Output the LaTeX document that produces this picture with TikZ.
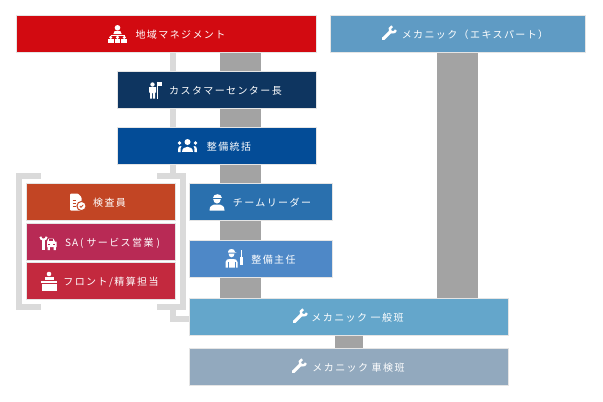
\documentclass[tikz,border=0pt]{standalone}
\usepackage{fontspec}
\setmainfont{Noto Sans CJK JP}[LetterSpace=14]
\usepackage{tikz}
\usetikzlibrary{backgrounds, calc, fit}
\definecolor{manageRed}{HTML}{D20A11}
\definecolor{expertBlue}{HTML}{5F9BC4}
\definecolor{centerNavy}{HTML}{0E3560}
\definecolor{unifyBlue}{HTML}{034C97}
\definecolor{leaderBlue}{HTML}{2A70AE}
\definecolor{chiefBlue}{HTML}{4E88C7}
\definecolor{generalBlue}{HTML}{64A6CB}
\definecolor{inspectGray}{HTML}{92A9BE}
\definecolor{checkRust}{HTML}{C24524}
\definecolor{salesPink}{HTML}{B82A55}
\definecolor{frontRed}{HTML}{C3293E}
\definecolor{trunkGray}{HTML}{A3A3A3}
\definecolor{linkGray}{HTML}{DADADA}
\newcommand{\pad}[1]{\hspace*{#1pt}}
\tikzset{
	role/.style={fill=#1, text=white, inner sep=0pt, outer sep=0pt, minimum height=36pt,
		text height=9.6pt, text depth=1pt,
		font=\fontsize{10}{12}\selectfont, preaction={draw=black!10, line width=1.2pt}},
	trunk/.style={draw=trunkGray, line width=41pt},
	link/.style={draw=linkGray, line width=6pt, line join=miter},
	pics/manageicon/.style={code={
		\fill[white](0,-6.2)circle(2.8);
		\fill[white](-4.2,0)--(-2.8,-3)--(2.8,-3)--(4.2,0)--cycle;
		\draw[white, line width=0.6pt](-6.5,2)--(-6.5,0.8)--(6.5,0.8)--(6.5,2);
		\foreach \px in {-6.8,0,6.8}{
			\fill[white](\px,3.4)circle(1.7);
			\fill[white](\px-2.9,5.3)rectangle(\px+2.9,8.8);
		}
	}},
	pics/flagicon/.style={code={
		\fill[white](-2.5,-5.5)circle(2.2);
		\fill[white](-6,-3)--(1,-3)--(1,2.5)--(0,2.5)--(0,8.5)--(-2,8.5)--(-2,3)--(-3,3)--(-3,8.5)--(-5,8.5)--(-5,2.5)--(-6,2.5)--cycle;
		\draw[white, line width=1pt](2.5,-8.5)--(2.5,8.5);
		\fill[white](2.5,-8.5)rectangle(7,-4.5);
	}},
	pics/teamicon/.style={code={
		\fill[white](0,-4)circle(3);
		\fill[white](-5.5,6)..controls(-5.5,-1)and(5.5,-1)..(5.5,6)--cycle;
		\foreach \px in {-8,8}{
			\fill[white](\px,-3)circle(1.9);
		}
		\fill[white](-9.5,6)..controls(-9.5,0)and(-8,-0.5)..(-6,0)..controls(-7,2)..(-7,6)--cycle;
		\fill[white](9.5,6)..controls(9.5,0)and(8,-0.5)..(6,0)..controls(7,2)..(7,6)--cycle;
	}},
	pics/capicon/.style={code={
		\fill[white](-4.5,-4)..controls(-4.5,-9.5)and(4.5,-9.5)..(4.5,-4)--cycle;
		\fill[white](-3.8,-3)--(3.8,-3)..controls(3.8,3)and(-3.8,3)..(-3.8,-3);
		\fill[white](-7.5,8.5)..controls(-7.5,4)and(-5,3)..(-3,2.5)--(3,2.5)..controls(5,3)and(7.5,4)..(7.5,8.5)--cycle;
	}},
	pics/workericon/.style={code={
		\fill[white](-7,-7)..controls(-7,-11)and(0,-11)..(0,-7)--(1.5,-6.5)--(-7,-6.5)--cycle;
		\fill[white](-6.5,-5.5)--(-0.5,-5.5)..controls(-0.5,-0.5)and(-6.5,-0.5)..(-6.5,-5.5);
		\fill[white](-9.5,8.5)--(-9.5,3)..controls(-9.5,0.5)and(-7,0)..(-5,0)--(-2,0)..controls(0,0)and(2.5,0.5)..(2.5,3)--(2.5,8.5)--cycle;
		\draw[chiefBlue, line width=0.7pt](-7,3)--(-7,8.5)(0,3)--(0,8.5);
		\draw[white, line width=1.2pt](6.5,-9)--(6.5,-2);
		\draw[white, line width=2.4pt](6.5,-2)--(6.5,6);
	}},
	pics/wrenchicon/.style={code={
		\draw[white, line width=2.4pt](3.9,-3.7)++(15:3.1)arc[start angle=15, end angle=255, radius=3.1];
		\draw[white, line width=3.2pt, line cap=round](1.3,-1.2)--(-5.8,5.8);
	}},
	pics/docicon/.style={code={
		\fill[white, rounded corners=1pt](-8,-8.5)--(0,-8.5)--(3.5,-5)--(3.5,8.5)--(-8,8.5)--cycle;
		\draw[#1, line width=0.9pt](-5.5,-2)--(-2,-2)(-5.5,1)--(-2,1)(-5.5,4)--(-2,4);
		\fill[white, draw=#1, line width=1pt](3.5,4)circle(4.6);
		\draw[#1, line width=0.8pt](1.8,4)--(3,5.3)--(5.3,2.8);
	}},
	pics/toolsicon/.style={code={
		\draw[white, line width=2pt](-4.5,-5.5)++(5:3.2)arc[start angle=5, end angle=175, radius=3.2];
		\draw[white, line width=2.8pt](-4.5,-3)--(-4.5,8);
		\fill[white](-1,-0.5)--(0.5,-3.5)--(5.5,-3.5)--(7,-0.5)--(8.5,-0.5)--(8.5,5)--(-1,5)--cycle;
		\fill[#1](1.2,-0.8)rectangle(5,-2.6);
		\fill[white](-0.5,5)rectangle(1.8,8)(5.5,5)rectangle(7.8,8);
		\draw[#1, line width=0.8pt](0,2)--(2,2)(5,2)--(7,2);
	}},
	pics/deskicon/.style={code={
		\fill[white](0,-7)circle(2.3);
		\fill[white](-4.5,-1.5)--(-4.5,-3.8)--(4.5,-3.8)--(4.5,-1.5)--cycle;
		\fill[white](-8,-0.5)rectangle(8,1.5);
		\fill[white](-7.5,3)rectangle(7.5,9.5);
	}},
}
\begin{document}
\begin{tikzpicture}[x=1pt, y=-1pt]
	\useasboundingbox (0,0) rectangle (603,402);

	\node[role=manageRed, minimum width=299pt](manage) at (166.5,34){\pad{28}地域マネジメント};
	\node[role=expertBlue, minimum width=254pt](expert) at (458,34){\pad{34}メカニック（エキスパート）};
	\node[role=centerNavy, minimum width=198pt](center) at (217,90){\pad{17}カスタマーセンター長};
	\node[role=unifyBlue, minimum width=198pt](unify) at (217,146){\pad{24}整備統括};
	\node[role=leaderBlue, minimum width=142pt](leader) at (261,202){\pad{22}チームリーダー};
	\node[role=chiefBlue, minimum width=142pt](chief) at (261,259){\pad{25}整備主任};
	\node[role=generalBlue, minimum width=318pt](general) at (349,317){\pad{17}メカニック 一般班};
	\node[role=inspectGray, minimum width=318pt](inspect) at (349,367){\pad{19}メカニック 車検班};

	\node[role=checkRust, minimum width=148pt](check) at (101,202){\pad{17}検査員};
	\node[role=salesPink, minimum width=148pt](sales) at (101,242){\pad{23}S\hspace{1pt}A\hspace{2pt}(\hspace{3pt}サービス営業\hspace{3pt})};
	\node[role=frontRed, minimum width=148pt](front) at (101,281){\pad{20}フロント/精算担当};
	\node[inner sep=8pt, fit=(check)(front)](staff){};

	\pic at ($(manage.center)+(-49,0)$){manageicon};
	\pic at ($(expert.center)+(-69,-1)$){wrenchicon};
	\pic at ($(center.center)+(-62,0)$){flagicon};
	\pic at ($(unify.center)+(-29.5,0)$){teamicon};
	\pic at ($(leader.center)+(-44,0)$){capicon};
	\pic at ($(chief.center)+(-26,0)$){workericon};
	\pic at ($(general.center)+(-49,-1)$){wrenchicon};
	\pic at ($(inspect.center)+(-50,-1)$){wrenchicon};
	\pic at ($(check.center)+(-23,0)$){docicon=checkRust};
	\pic at ($(sales.center)+(-53,0)$){toolsicon=salesPink};
	\pic at ($(front.center)+(-52,0)$){deskicon};

	\coordinate (trunkMain) at (240.5,0);
	\coordinate (trunkExpert) at (457.5,0);
	\coordinate (linkMain) at (173,0);
	\coordinate (linkEnd) at (190,319);

	\begin{scope}[on background layer]
		\draw[trunk](trunkMain |- manage.south)--(trunkMain |- general.north);
		\draw[trunk](trunkExpert |- expert.south)--(trunkExpert |- general.north);
		\draw[trunk, line width=28pt](general.south)--(inspect.north);
		\draw[link](linkMain |- manage.south)--(linkMain |- staff.north);
		\draw[link]($(staff.north west)+(22,0)$)-|(staff.south west)--($(staff.south west)+(22,0)$);
		\draw[link]($(staff.north east)+(-26,0)$)-|(staff.south east)--($(staff.south east)+(-26,0)$);
		\draw[link](linkMain |- staff.south)|-(linkEnd);
	\end{scope}
\end{tikzpicture}
\end{document}
